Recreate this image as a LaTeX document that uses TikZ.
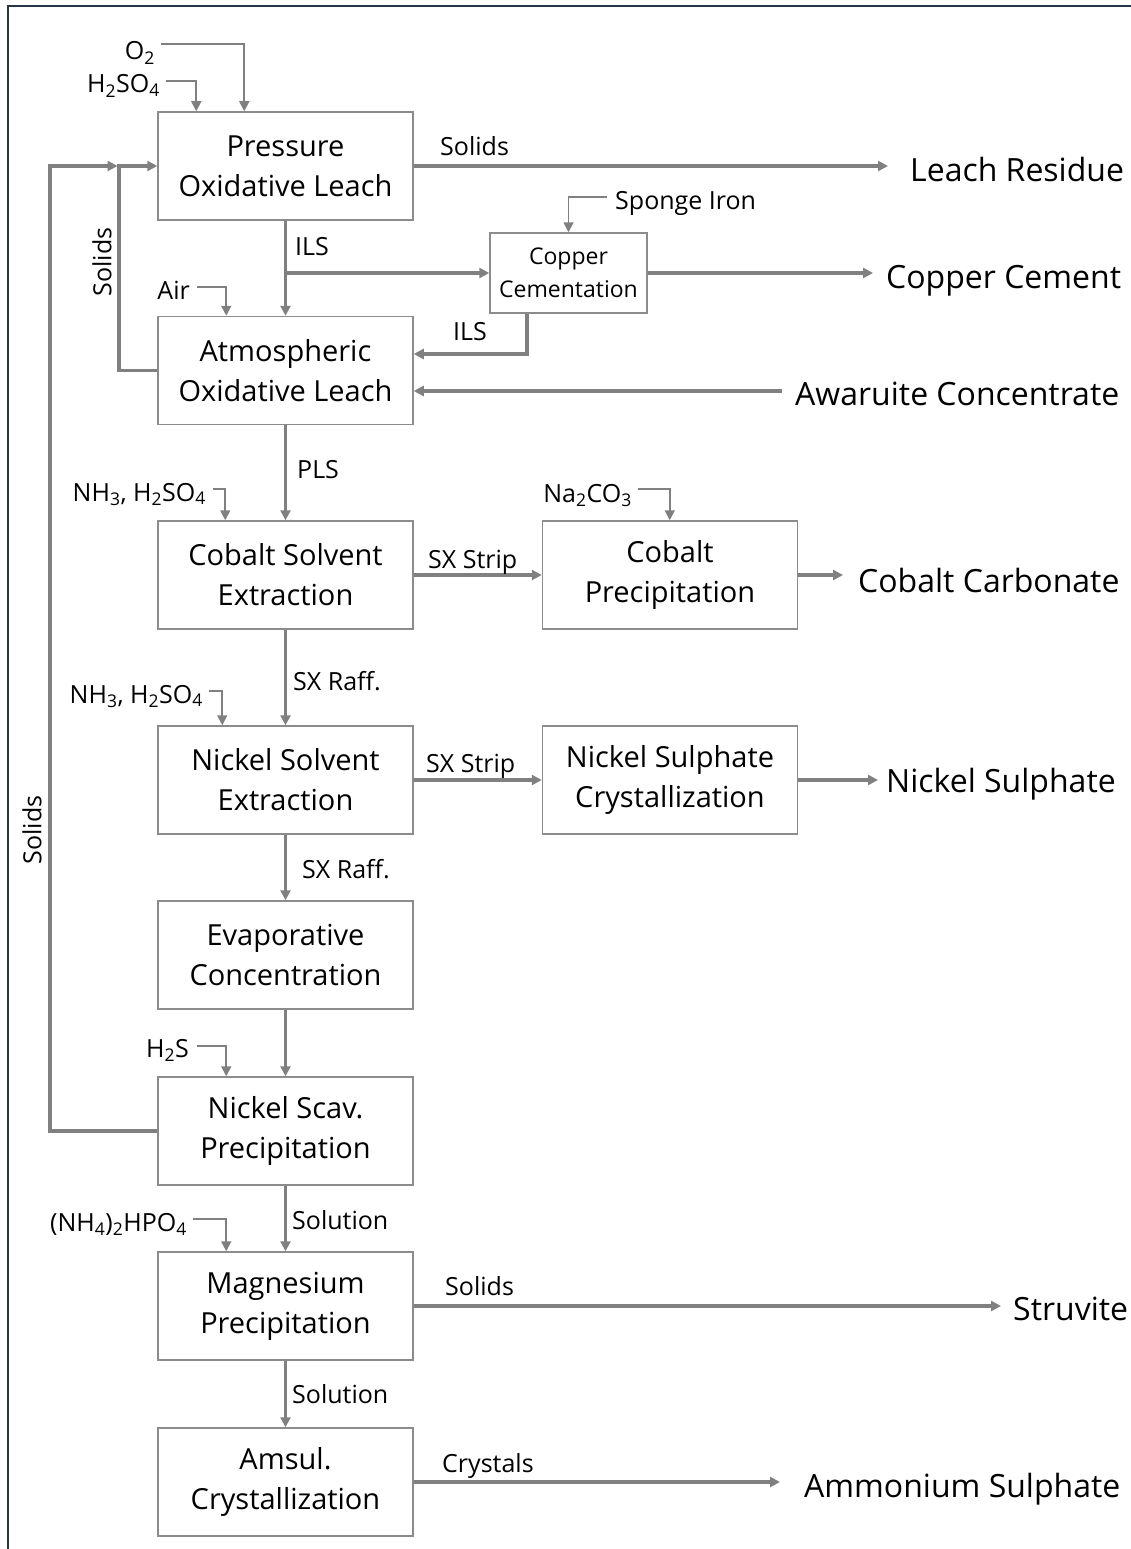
\documentclass[tikz,border=0pt]{standalone}
\usepackage{fontspec}
\setmainfont{Open Sans}
\usetikzlibrary{arrows.meta,calc}
\definecolor{ln}{HTML}{808080}
\definecolor{bx}{HTML}{8C8C8C}
\definecolor{fr}{HTML}{263646}
\begin{document}
\begin{tikzpicture}[x=1pt,y=-1pt,
  box/.style={draw=bx,line width=1.5pt,fill=white,minimum width=255pt,minimum height=108pt,align=center,inner sep=0pt,font=\fontsize{29}{40}\selectfont},
  smallbox/.style={box,minimum width=157pt,minimum height=80pt,font=\fontsize{23}{33}\selectfont},
  flow/.style={draw=ln,line width=3.8pt,-{Triangle[length=10pt,width=10pt]}},
  feed/.style={draw=ln,line width=1.8pt,-{Triangle[length=10pt,width=10pt]}},
  lbl/.style={inner sep=0pt,font=\fontsize{25}{30}\selectfont},
  outp/.style={inner sep=0pt,anchor=base west,font=\fontsize{32}{38}\selectfont}]
\useasboundingbox (0,0) rectangle (1131,1549);
\draw[fr,line width=2pt] (8,1570) -- (8,6) -- (1150,6);

% process boxes
\node[box] (pol) at (285.5,166) {Pressure\\Oxidative Leach};
\node[smallbox] (cop) at (568.5,273) {Copper\\Cementation};
\node[box] (aol) at (285.5,370.5) {Atmospheric\\Oxidative Leach};
\node[box] (csx) at (285.5,575) {Cobalt Solvent\\Extraction};
\node[box] (cpr) at (670,575) {Cobalt\\Precipitation};
\node[box] (nsx) at (285.5,780) {Nickel Solvent\\Extraction};
\node[box] (nsc) at (670,780) {Nickel Sulphate\\Crystallization};
\node[box] (evc) at (285.5,955) {Evaporative\\Concentration};
\node[box] (nsp) at (285.5,1131) {Nickel Scav.\\Precipitation};
\node[box] (mgp) at (285.5,1306) {Magnesium\\Precipitation};
\node[box] (amc) at (285.5,1482) {Amsul.\\Crystallization};

% products
\node[outp] (lr) at (910,182) {Leach Residue};
\node[outp] (cc) at (886,288) {Copper Cement};
\node[outp] (aw) at (795,405) {Awaruite Concentrate};
\node[outp] (cb) at (858,592) {Cobalt Carbonate};
\node[outp] (ns) at (886,792) {Nickel Sulphate};
\node[outp] (st) at (1013,1320) {Struvite};
\node[outp] (as) at (804,1497) {Ammonium Sulphate};

% reagents
\node[lbl,anchor=base east] (o2) at (155,60) {O\textsubscript{2}};
\node[lbl,anchor=base east] (h2so4) at (160,93) {H\textsubscript{2}SO\textsubscript{4}};
\node[lbl,anchor=base east] (air) at (190,299) {Air};
\node[lbl,anchor=base west] (sponge) at (615,209) {Sponge Iron};
\node[lbl,anchor=base east] (nha) at (206,501) {NH\textsubscript{3}, H\textsubscript{2}SO\textsubscript{4}};
\node[lbl,anchor=base east] (na) at (632,502) {Na\textsubscript{2}CO\textsubscript{3}};
\node[lbl,anchor=base east] (nhb) at (203,703) {NH\textsubscript{3}, H\textsubscript{2}SO\textsubscript{4}};
\node[lbl,anchor=base east] (h2s) at (189,1057) {H\textsubscript{2}S};
\node[lbl,anchor=base east] (dap) at (187,1231) {(NH\textsubscript{4})\textsubscript{2}HPO\textsubscript{4}};

\coordinate (o2s) at (161,44);
\coordinate (h2so4s) at (166,81);
\coordinate (airs) at (197,287);
\coordinate (sponges) at (607,197);
\coordinate (nhas) at (213,489);
\coordinate (nas) at (638,489);
\coordinate (nhbs) at (209,691);
\coordinate (h2ss) at (197,1046);
\coordinate (daps) at (193,1219);

\draw[feed] (o2s) -| ($(pol.north west)+(87,0)$);
\draw[feed] (h2so4s) -| ($(pol.north west)+(39,0)$);
\draw[feed] (airs) -| ($(aol.north west)+(69,0)$);
\draw[feed] (sponges) -| (cop.north);
\draw[feed] (nhas) -| ($(csx.north west)+(68,0)$);
\draw[feed] (nas) -| ($(cpr.north west)+(128,0)$);
\draw[feed] (nhbs) -| ($(nsx.north west)+(65,0)$);
\draw[feed] (h2ss) -| ($(nsp.north west)+(69,0)$);
\draw[feed] (daps) -| ($(mgp.north west)+(69,0)$);

% main flow
\draw[flow] (pol.south) -- (aol.north);
\draw[flow] (pol.south |- cop.west) -- (cop.west);
\draw[flow] ($(cop.south west)+(38,0)$) |- ($(aol.east)+(0,-16.5)$);
\draw[flow] (aol.south) -- (csx.north);
\draw[flow] (csx.east) -- (cpr.west);
\draw[flow] (csx.south) -- (nsx.north);
\draw[flow] (nsx.east) -- (nsc.west);
\draw[flow] (nsx.south) -- (evc.north);
\draw[flow] (evc.south) -- (nsp.north);
\draw[flow] (nsp.south) -- (mgp.north);
\draw[flow] (mgp.south) -- (amc.north);

% recycle solids
\coordinate (innr) at (119,166);
\coordinate (outr) at (50,166);
\draw[flow] (aol.west) -| (innr) -- (pol.west |- innr);
\draw[flow] (nsp.west) -| (outr) -- ($(innr)+(-1.5,0)$);

% product arrows
\draw[flow] (pol.east) -- ($(lr.west |- pol.east)+(-22,0)$);
\draw[flow] (cop.east) -- ($(cc.west |- cop.east)+(-13,0)$);
\draw[flow] ($(aw.west |- aol.east)+(-13,20.5)$) -- ($(aol.east)+(0,20.5)$);
\draw[flow] (cpr.east) -- ($(cb.west |- cpr.east)+(-15,0)$);
\draw[flow] (nsc.east) -- ($(ns.west |- nsc.east)+(-8,0)$);
\draw[flow] (mgp.east) -- ($(st.west |- mgp.east)+(-12,0)$);
\draw[flow] (amc.east) -- ($(as.west |- amc.east)+(-24,0)$);

% stream labels
\node[lbl,anchor=base west] (l1) at (440,156) {Solids};
\node[lbl,anchor=base west] (l2) at (295,255) {ILS};
\node[lbl,anchor=base west] (l3) at (453,340) {ILS};
\node[lbl,anchor=base west] (l4) at (297,478) {PLS};
\node[lbl,anchor=base west] (l5) at (428,568) {SX Strip};
\node[lbl,anchor=base west] (l6) at (293,690) {SX Raff.};
\node[lbl,anchor=base west] (l7) at (426,772) {SX Strip};
\node[lbl,anchor=base west] (l8) at (302,878) {SX Raff.};
\node[lbl,anchor=base west] (l9) at (292,1229) {Solution};
\node[lbl,anchor=base west] (l10) at (445,1295) {Solids};
\node[lbl,anchor=base west] (l11) at (292,1403) {Solution};
\node[lbl,anchor=base west] (l12) at (442,1472) {Crystals};
\node[lbl,rotate=90] (l13) at (102,262) {Solids};
\node[lbl,rotate=90] (l14) at (32,830) {Solids};
\end{tikzpicture}
\end{document}
